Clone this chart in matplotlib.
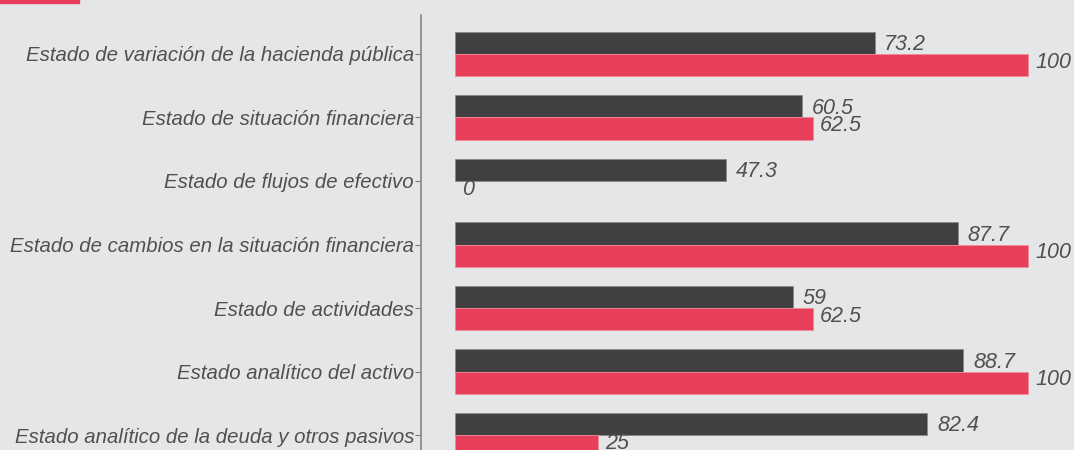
import numpy as np
import matplotlib.pyplot as plt
from matplotlib.patches import Rectangle

# datos
categorias = ['Estado de variación de la hacienda pública',
              'Estado de situación financiera',
              'Estado de flujos de efectivo',
              'Estado de cambios en la situación financiera',
              'Estado de actividades',
              'Estado analítico del activo',
              'Estado analítico de la deuda y otros pasivos']
serie_gris = [73.2, 60.5, 47.3, 87.7, 59, 88.7, 82.4]
serie_roja = [100, 62.5, 0, 100, 62.5, 100, 25]
etiquetas_gris = ['73.2', '60.5', '47.3', '87.7', '59', '88.7', '82.4']
etiquetas_roja = ['100', '62.5', '0', '100', '62.5', '100', '25']

fondo = '#e5e6e8'
gris = '#404040'
rojo = '#e83e5a'
texto = '#505050'

plt.rcParams['font.family'] = ['Liberation Sans', 'DejaVu Sans']

fig = plt.figure(figsize=(10.74, 4.5), dpi=100, facecolor=fondo)
ax = fig.add_axes([421 / 1074, 0, 1 - 421 / 1074, 435 / 450])
ax.set_facecolor(fondo)

y = np.arange(len(categorias))
h = 0.35
ax.barh(y - h / 2, serie_gris, height=h, color=gris, edgecolor='#8a8a8a', linewidth=0.6)
# sin borde para la barra de valor 0
bordes = ['#f08a9a' if v > 0 else 'none' for v in serie_roja]
ax.barh(y + h / 2, serie_roja, height=h, color=rojo, edgecolor=bordes, linewidth=0.6)

for i in range(len(categorias)):
    ax.annotate(etiquetas_gris[i], (serie_gris[i], y[i] - h / 2), xytext=(7, -1.5),
                textcoords='offset points', va='center', ha='left',
                fontsize=15.5, style='italic', color=texto)
    ax.annotate(etiquetas_roja[i], (serie_roja[i], y[i] + h / 2), xytext=(5, 2),
                textcoords='offset points', va='center', ha='left',
                fontsize=15.5, style='italic', color=texto)

ax.set_xlim(-5.93, 108)
ax.set_ylim(6.236, -0.614)
ax.set_yticks(y)
ax.set_yticklabels(categorias, fontsize=14.7, style='italic', color=texto)
ax.tick_params(axis='y', length=4, width=0.8, color='#777777', pad=1)
ax.set_xticks([])
for s in ['top', 'right', 'bottom']:
    ax.spines[s].set_visible(False)
ax.spines['left'].set_color('#888888')
ax.spines['left'].set_linewidth(1.2)

# parche de leyenda recortado arriba a la izquierda
fig.patches.append(Rectangle((0, 1 - 3 / 450), 79 / 1074, 3 / 450,
                             transform=fig.transFigure, color=rojo))

fig.savefig('out.png', dpi=100, facecolor=fondo)
